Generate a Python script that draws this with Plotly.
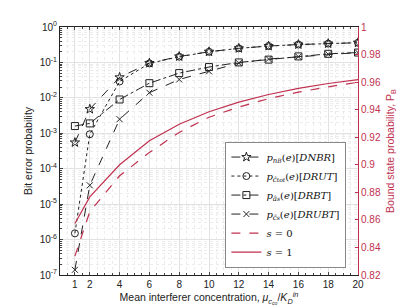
import plotly.graph_objects as go

# ---- data ----
x_pts = [1, 2, 4, 6, 8, 10, 12, 14, 16, 18, 20]
p_dnbr = [5.5e-4, 4.8e-3, 3.8e-2, 0.096, 0.147, 0.20, 0.25, 0.29, 0.32, 0.34, 0.36]
p_drut = [1.5e-6, 9.4e-4, 2.9e-2, 0.094, 0.145, 0.20, 0.25, 0.29, 0.32, 0.34, 0.36]
p_drbt = [1.6e-3, 1.9e-3, 9.0e-3, 0.026, 0.050, 0.074, 0.100, 0.120, 0.148, 0.175, 0.19]
p_drubt = [1.4e-7, 3.4e-5, 2.5e-3, 0.014, 0.033, 0.056, 0.096, 0.125, 0.145, 0.17, 0.19]
pb_s0 = [0.8337, 0.8660, 0.8920, 0.9090, 0.9235, 0.9345, 0.9419, 0.9480, 0.9527, 0.9566, 0.9599]
pb_s1 = [0.8574, 0.8767, 0.9000, 0.9174, 0.9294, 0.9385, 0.9455, 0.9510, 0.9554, 0.9590, 0.9618]

x_ticks = [1, 2, 4, 6, 8, 10, 12, 14, 16, 18, 20]
y_exps = [0, -1, -2, -3, -4, -5, -6, -7]

SS = "<span style='font-size:6px'>%s</span>"
names = [
    "<i>p</i><sub><i>n</i>" + SS % "<i>B</i>" + "</sub>(<i>e</i>)[<i>DNBR</i>]",
    "<i>p</i><sub><i>ĉ</i>" + SS % "<i>tot</i>" + "</sub>(<i>e</i>)[<i>DRUT</i>]",
    "<i>p</i><sub><i>â</i>" + SS % "<i>s</i>" + "</sub>(<i>e</i>)[<i>DRBT</i>]",
    "<i>p</i><sub><i>ĉ</i>" + SS % "<i>s</i>" + "</sub>(<i>e</i>)[<i>DRUBT</i>]",
    "<i>s</i> = 0",
    "<i>s</i> = 1",
]

RED = "#c0304f"
BLK = "#222222"

fig = go.Figure()
series = [
    (p_dnbr, "star-open", "dash", names[0], 7),
    (p_drut, "circle-open", "dot", names[1], 7),
    (p_drbt, "square-open", "dashdot", names[2], 7),
    (p_drubt, "x-thin-open", "dash", names[3], 6),
]
for ys, sym, dash, nm, sz in series:
    fig.add_trace(go.Scatter(
        x=x_pts, y=ys, name=nm, mode="lines+markers",
        line=dict(color=BLK, width=1, dash=dash),
        marker=dict(symbol=sym, size=sz, color=BLK, line=dict(color=BLK, width=1)),
        yaxis="y",
    ))
fig.add_trace(go.Scatter(x=x_pts, y=pb_s0, name=names[4], mode="lines",
                         line=dict(color=RED, width=1.2, dash="dash"), yaxis="y2"))
fig.add_trace(go.Scatter(x=x_pts, y=pb_s1, name=names[5], mode="lines",
                         line=dict(color=RED, width=1.2), yaxis="y2"))

minor_y = [m * 10 ** e for e in range(-7, 0) for m in range(2, 10)]
minor_x = [v / 2 for v in range(0, 41)]

fig.update_layout(
    width=409, height=307,
    margin=dict(l=52, r=59, t=17, b=40),
    paper_bgcolor="white", plot_bgcolor="white",
    font=dict(family="Liberation Sans, Arial, sans-serif", size=10, color="#222"),
    showlegend=True,
    legend=dict(
        x=0.555, y=0.03, xanchor="left", yanchor="bottom",
        bgcolor="white", bordercolor="#888", borderwidth=1,
        font=dict(family="DejaVu Serif, Liberation Serif, serif", size=10, color="#111"),
        tracegroupgap=0, itemwidth=30,
    ),
    xaxis=dict(
        range=[0, 20], tickvals=x_ticks, ticks="inside", ticklen=3,
        showline=True, linecolor="#222", linewidth=1, mirror="ticks",
        showgrid=True, gridcolor="#e2e2e2", gridwidth=1, zeroline=False,
        minor=dict(tickvals=minor_x, ticks="inside", ticklen=2, tickcolor="#444",
                   showgrid=True, gridcolor="#ececec", griddash="dot"),
        title=dict(text="Mean interferer concentration, <i>μ</i><sub><i>c</i><sub><i>co</i></sub></sub>/<i>K</i><sub><i>D</i></sub><sup><i>in</i></sup>",
                   font=dict(size=10.5), standoff=4),
        tickfont=dict(size=10),
    ),
    yaxis=dict(
        type="log", range=[-7, 0],
        tickvals=[10 ** e for e in y_exps],
        ticktext=["10<sup>%d</sup>" % e for e in y_exps],
        ticks="inside", ticklen=3,
        showline=True, linecolor="#222", linewidth=1, mirror=True,
        showgrid=True, gridcolor="#e2e2e2", gridwidth=1, zeroline=False,
        minor=dict(tickvals=minor_y, ticks="inside", ticklen=2, tickcolor="#444",
                   showgrid=True, gridcolor="#ececec", griddash="dot"),
        title=dict(text="Bit error probability", font=dict(size=10.5), standoff=4),
        tickfont=dict(size=10),
    ),
    yaxis2=dict(
        overlaying="y", side="right", range=[0.82, 1], dtick=0.02,
        ticks="inside", ticklen=3, tickcolor=RED,
        showline=True, linecolor=RED, linewidth=1,
        showgrid=False, zeroline=False,
        tickfont=dict(size=10, color=RED),
        title=dict(text="Bound state probability, P<sub>B</sub>", font=dict(size=10.5, color=RED), standoff=6),
    ),
)

fig.write_html("out.html")
